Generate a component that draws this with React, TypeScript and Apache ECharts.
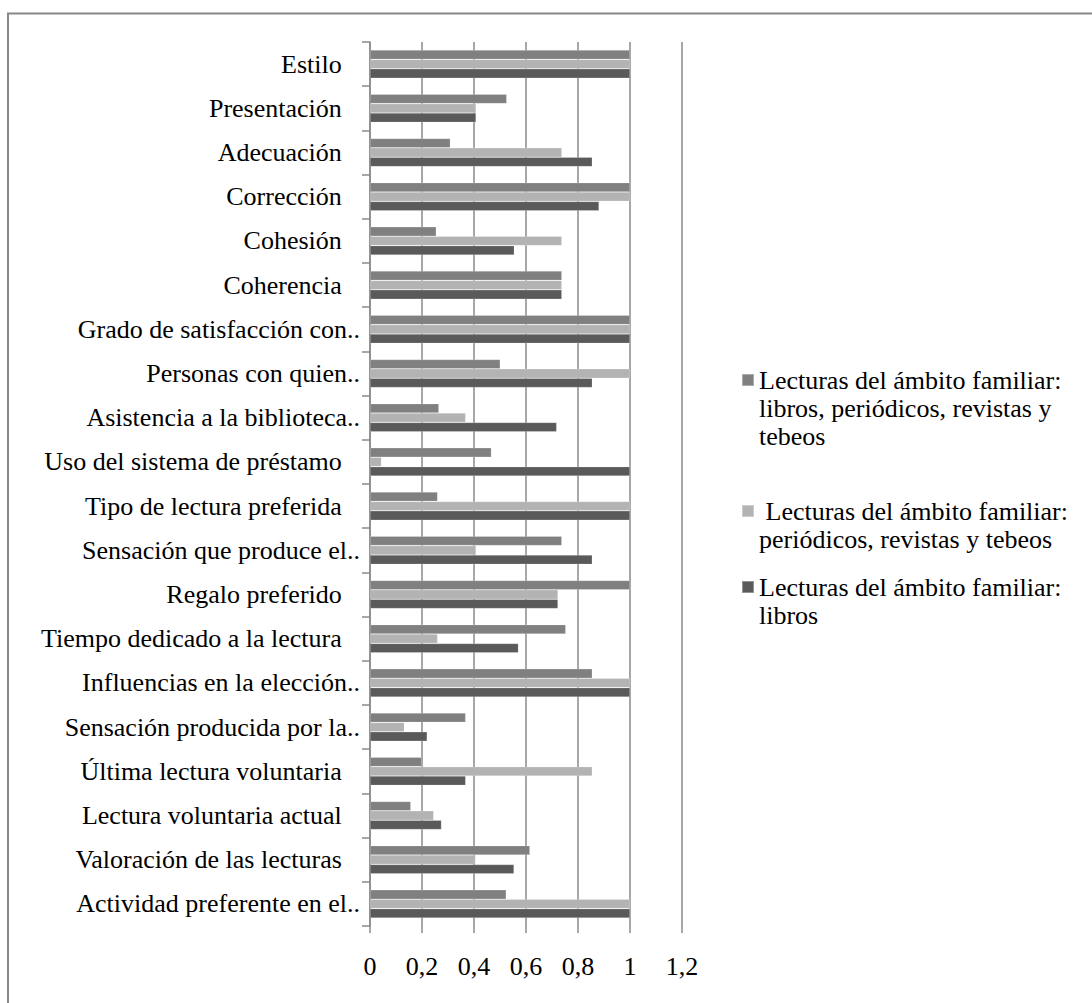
import React, { useEffect, useRef } from "react";
import * as echarts from "echarts";

const categories = [
  "Estilo",
  "Presentación",
  "Adecuación",
  "Corrección",
  "Cohesión",
  "Coherencia",
  "Grado de satisfacción con..",
  "Personas con quien..",
  "Asistencia a la biblioteca..",
  "Uso del sistema de préstamo",
  "Tipo de lectura preferida",
  "Sensación que produce el..",
  "Regalo preferido",
  "Tiempo dedicado a la lectura",
  "Influencias en la elección..",
  "Sensación producida por la..",
  "Última lectura voluntaria",
  "Lectura voluntaria actual",
  "Valoración de las lecturas",
  "Actividad preferente en el..",
];

const seriesNames = [
  "Lecturas del ámbito familiar: libros, periódicos, revistas y tebeos",
  " Lecturas del ámbito familiar: periódicos, revistas y tebeos",
  "Lecturas del ámbito familiar: libros",
];

const legendLines = [
  "\n\nLecturas del ámbito familiar:\nlibros, periódicos, revistas y\ntebeos",
  "\n Lecturas del ámbito familiar:\nperiódicos, revistas y tebeos",
  "\nLecturas del ámbito familiar:\nlibros",
];

const librosPeriodicos = [
  1, 0.526, 0.309, 1, 0.255, 0.738, 1, 0.501, 0.265, 0.467,
  0.26, 0.738, 1, 0.753, 0.855, 0.368, 0.199, 0.157, 0.615, 0.524,
];
const periodicos = [
  1, 0.408, 0.738, 1, 0.738, 0.738, 1, 1, 0.368, 0.044,
  1, 0.408, 0.723, 0.26, 1, 0.132, 0.855, 0.245, 0.406, 1,
];
const libros = [
  1, 0.408, 0.855, 0.881, 0.555, 0.738, 1, 0.855, 0.718, 1,
  1, 0.855, 0.723, 0.571, 1, 0.22, 0.368, 0.275, 0.554, 1,
];

const xTicks = ["0", "0,2", "0,4", "0,6", "0,8", "1", "1,2"];

const colors = ["#808080", "#b3b3b3", "#5a5a5a"];
const FONT = "Liberation Serif";

export default function App() {
  const ref = useRef<HTMLDivElement>(null);
  useEffect(() => {
    if (!ref.current) return;
    const chart = echarts.init(ref.current, null, { renderer: "svg" });
    const values = [librosPeriodicos, periodicos, libros];
    const L = 28;
    const legendTops = [310, 469, 545];
    chart.setOption({
      animation: false,
      backgroundColor: "#ffffff",
      textStyle: { fontFamily: FONT },
      grid: { left: 370, right: 410, top: 42, bottom: 77, containLabel: false },
      xAxis: {
        type: "value",
        min: 0,
        max: 1.2,
        interval: 0.2,
        axisLine: { show: false },
        axisTick: { show: true, length: 7, lineStyle: { color: "#8a8a8a", width: 1.5 } },
        splitLine: { show: true, lineStyle: { color: "#8a8a8a", width: 1.5 } },
        axisLabel: {
          margin: 27,
          fontSize: 26,
          color: "#000",
          fontFamily: FONT,
          formatter: (v: number) => xTicks[Math.round(v / 0.2)] ?? String(v),
        },
      },
      yAxis: {
        type: "category",
        inverse: true,
        data: categories,
        axisLine: { show: true, lineStyle: { color: "#8a8a8a", width: 1.5 } },
        axisTick: { show: true, length: 8, lineStyle: { color: "#8a8a8a", width: 1.5 } },
        splitLine: { show: false },
        axisLabel: {
          margin: 10,
          fontSize: 26,
          color: "#000",
          fontFamily: FONT,
          formatter: (v: string) => (v.endsWith("..") ? v : v + "  \u2009"),
        },
      },
      legend: seriesNames.map((n, i) => ({
        data: [n],
        left: 741,
        top: legendTops[i],
        orient: "vertical",
        icon: "rect",
        itemWidth: 12,
        itemHeight: 12,
        itemGap: 0,
        padding: 0,
        selectedMode: false,
        formatter: () => legendLines[i],
        textStyle: {
          fontSize: 26,
          lineHeight: L,
          color: "#000",
          fontFamily: FONT,
        },
      })),
      graphic: [
        {
          type: "rect",
          shape: { x: 8, y: 13.5, width: 1200, height: 1100 },
          style: { fill: "none", stroke: "#888888", lineWidth: 2 },
          silent: true,
          z: 100,
        },
      ],
      series: seriesNames.map((n, i) => ({
        name: n,
        type: "bar",
        data: values[i],
        barWidth: 9.4,
        barGap: "0%",
        itemStyle: { color: colors[i], borderColor: "rgba(255,255,255,0.35)", borderWidth: 0.6 },
      })),
    });
    return () => chart.dispose();
  }, []);
  return (
    <div
      ref={ref}
      style={{ position: "absolute", left: 0, top: 0, width: 1092, height: 1003 }}
    />
  );
}
